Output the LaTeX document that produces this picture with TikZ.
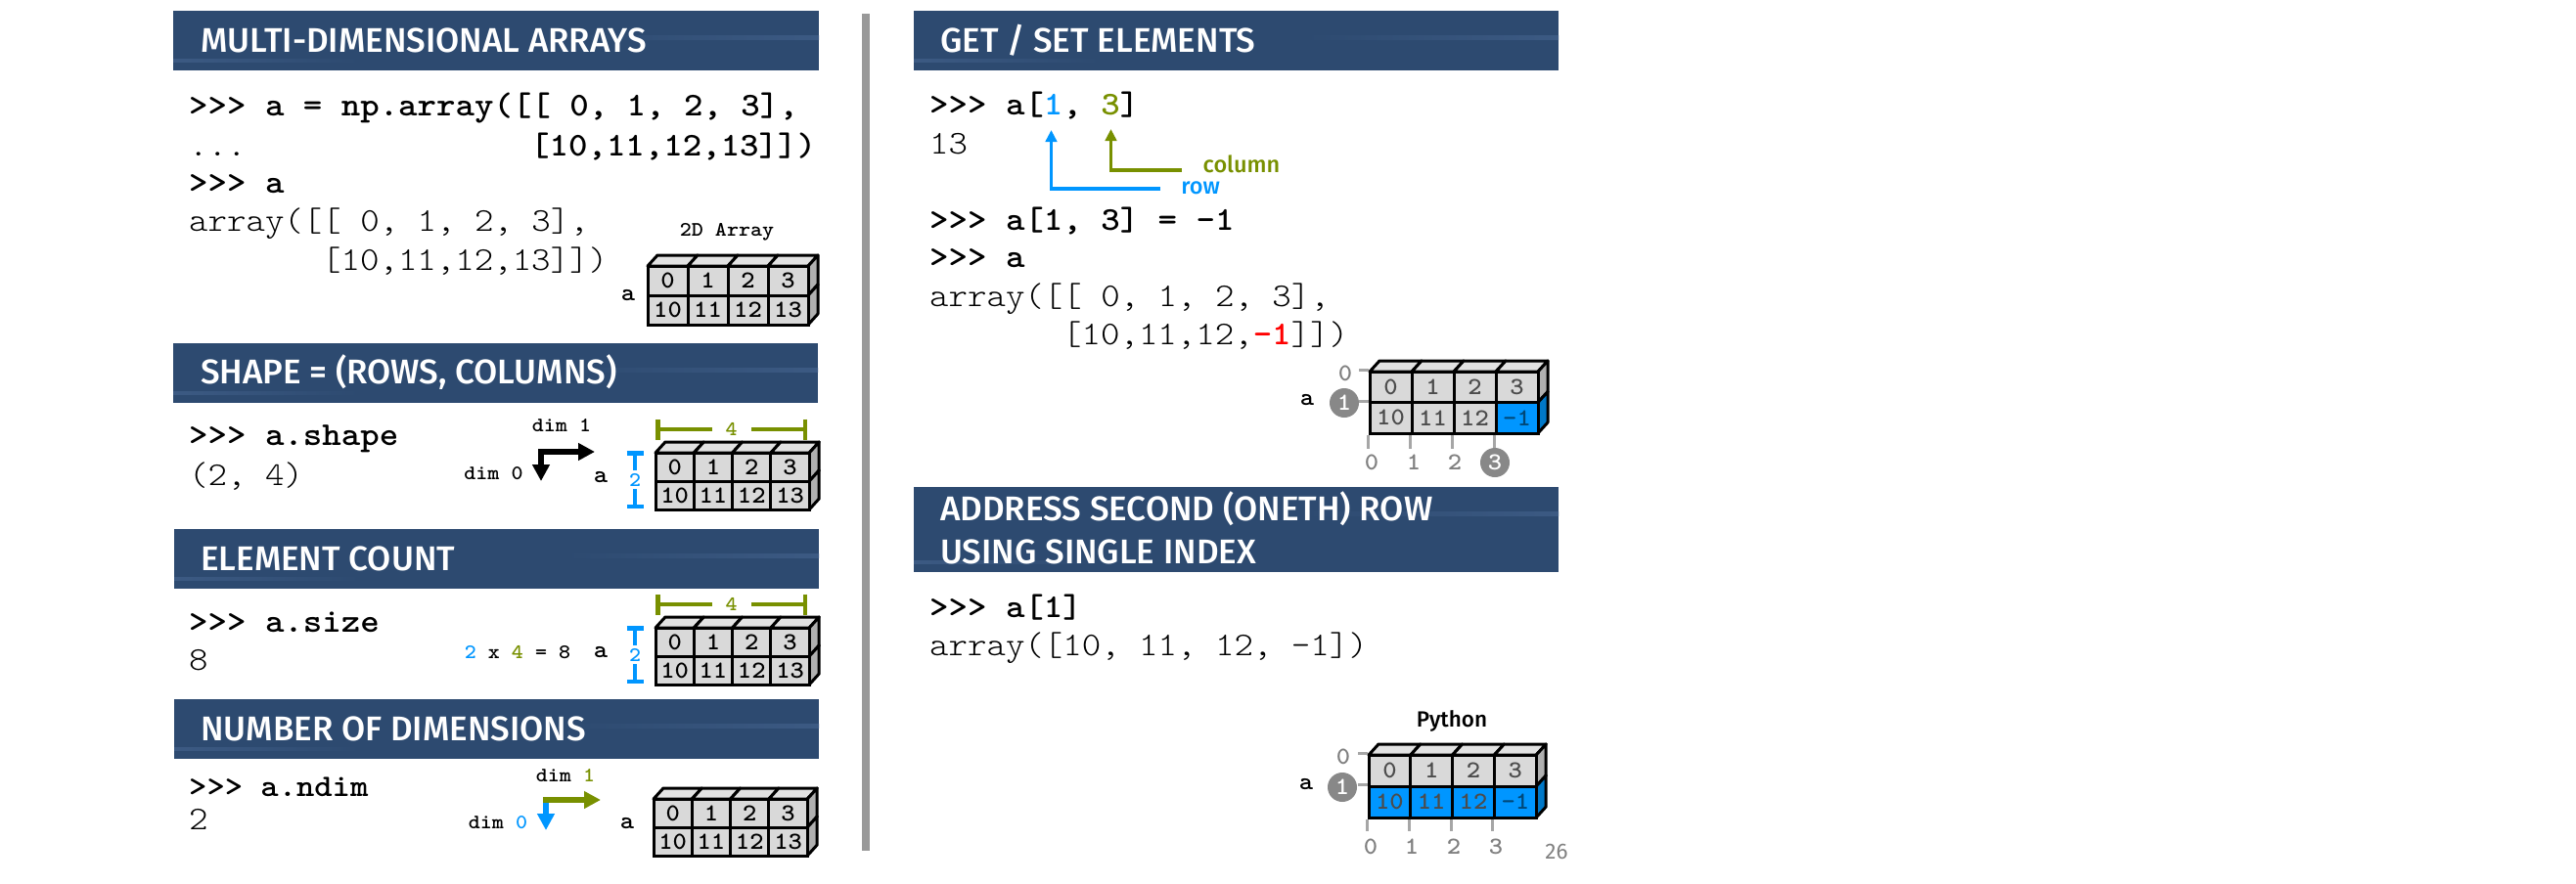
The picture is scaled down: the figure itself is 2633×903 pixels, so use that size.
\documentclass[tikz,border=0pt]{standalone}
\usepackage{fontspec}
\usetikzlibrary{arrows.meta}
\newfontfamily\hdfont{Fira Sans Medium}
\newfontfamily\pagefont{Fira Sans}
\newfontfamily\codethin[FakeStretch=1.09]{Latin Modern Mono Light}
\definecolor{hdrblue}{HTML}{2D4A70}
\definecolor{hdrlight}{HTML}{3C5A83}
\definecolor{numblue}{HTML}{0096FF}
\definecolor{numblued}{HTML}{0078C8}
\definecolor{numgreen}{HTML}{789000}
\definecolor{numred}{HTML}{FF0000}
\definecolor{cellgray}{HTML}{D9D9D9}
\definecolor{topgray}{HTML}{E2E2E2}
\definecolor{sidegray}{HTML}{B0B0B0}
\definecolor{idxgray}{HTML}{888888}
\tikzset{
codebold/.style={font=\codethin\bfseries\fontsize{34}{34}\selectfont, anchor=base west, inner sep=0pt},
codelight/.style={font=\codethin\fontsize{34}{34}\selectfont, text=black, anchor=base west, inner sep=0pt},
hdrtext/.style={font=\hdfont\fontsize{35}{35}\selectfont, text=white, anchor=base west, inner sep=0pt},
smallbold/.style={font=\codethin\bfseries\fontsize{21}{21}\selectfont, inner sep=0pt},
arrname/.style={font=\codethin\bfseries\fontsize{25}{25}\selectfont, inner sep=0pt},
cellbox/.style={draw=black, line width=3pt, inner sep=0pt, font=\codethin\bfseries\fontsize{25}{25}\selectfont},
blockline/.style={draw=black, line width=3pt, line join=round},
idxtext/.style={font=\codethin\bfseries\fontsize{25}{25}\selectfont, text=black!50, inner sep=0pt},
idxcircle/.style={circle, fill=idxgray, text=white, font=\codethin\bfseries\fontsize{25}{25}\selectfont, minimum size=30pt, inner sep=0pt},
tickline/.style={draw=black!35, line width=3pt},
sizebar/.style={line width=4.5pt, {Bar[width=#1,line width=4.5pt]}-{Bar[width=#1,line width=4.5pt]}},
sizenum/.style={font=\codethin\bfseries\fontsize{21}{21}\selectfont, fill=white, inner xsep=2pt, inner ysep=3pt},
dimarrow/.style={line width=6pt, -{Triangle[length=17pt,width=17pt]}},
thinarrow/.style={line width=3.5pt, -{Triangle[length=12pt,width=11.5pt]}},
tagtext/.style={font=\hdfont\fontsize{23.5}{23.5}\selectfont, inner sep=0pt},
}
% one array block: name, x, y, cell w, cell h, top row, bottom row, colour of lower side
\newcommand{\npblock}[8]{
\begin{scope}[shift={(#2,#3)}]
\foreach \c in {0,1,2,3}
  \filldraw[blockline, fill=topgray] (\c*#4,0) -- ++(10,-11) -- ++(#4,0) -- ++(-10,11) -- cycle;
\filldraw[blockline, fill=sidegray] (4*#4,0) -- ++(10,-11) -- ++(0,#5) -- ++(-10,11) -- cycle;
\filldraw[blockline, fill=#8] (4*#4,#5) -- ++(10,-11) -- ++(0,#5) -- ++(-10,11) -- cycle;
\foreach \c/\v/\f/\t in #6
  \node[cellbox, minimum width=#4pt, minimum height=#5pt, fill=\f, text=\t] (#1r0c\c) at (\c*#4+#4/2,#5/2) {\v};
\foreach \c/\v/\f/\t in #7
  \node[cellbox, minimum width=#4pt, minimum height=#5pt, fill=\f, text=\t] (#1r1c\c) at (\c*#4+#4/2,#5+#5/2) {\v};
\end{scope}
}
\newcommand{\toprow}{0/0/cellgray/black,1/1/cellgray/black,2/2/cellgray/black,3/3/cellgray/black}
\newcommand{\lowrow}{0/10/cellgray/black,1/11/cellgray/black,2/12/cellgray/black,3/13/cellgray/black}
\newcommand{\topdim}{0/0/cellgray/black!70,1/1/cellgray/black!70,2/2/cellgray/black!70,3/3/cellgray/black!70}
\newcommand{\lowsel}{0/10/cellgray/black!70,1/11/cellgray/black!70,2/12/cellgray/black!70,3/-1/numblue/numblued!60!black}
\newcommand{\lowoneth}{0/10/numblue/black!70,1/11/numblue/black!70,2/12/numblue/black!70,3/-1/numblue/numblued!60!black}
\begin{document}
\begin{tikzpicture}[x=1pt,y=-1pt]
\useasboundingbox (0,0) rectangle (2633,903);

%Header bars
\foreach \xa/\ya/\xb/\yb in {177/11/837/72, 177/351/836/412, 178/541/837/602, 178/715/837/776, 934/11/1593/72, 934/498/1593/585}{
  \fill[hdrblue] (\xa,\ya) rectangle (\xb,\yb);
  \shade[left color=hdrblue, right color=hdrlight] (\xa+400,\ya+25) rectangle (\xb,\ya+29);
  \shade[left color=hdrlight, right color=hdrblue] (\xa,\yb-12) rectangle (\xa+190,\yb-9);
}
\fill[black!40] (881,14) rectangle (889,870);

\node[hdrtext] (hdrArrays) at (205,53) {MULTI-DIMENSIONAL ARRAYS};
\node[hdrtext] (hdrShape) at (205,392) {SHAPE = (ROWS, COLUMNS)};
\node[hdrtext] (hdrCount) at (205,583) {ELEMENT COUNT};
\node[hdrtext] (hdrNdim) at (205,757) {NUMBER OF DIMENSIONS};
\node[hdrtext] (hdrGet) at (961,53) {GET / SET ELEMENTS};
\node[hdrtext] (hdrRowA) at (961,532) {ADDRESS SECOND (ONETH) ROW};
\node[hdrtext] (hdrRowB) at (961,576) {USING SINGLE INDEX};

%Code, left column
\node[codebold] (lineA) at (193,118) {>>> a = np.array([[ 0, 1, 2, 3],};
\node[codelight] (lineB) at (193,159) {...};
\node[codebold] (lineC) at (542,159) {[10,11,12,13]])};
\node[codebold] (lineD) at (193,197) {>>> a};
\node[codelight] (lineE) at (193,236) {array([[ 0, 1, 2, 3],};
\node[codelight] (lineF) at (329,276) {[10,11,12,13]])};
\node[codebold] (shapeA) at (193,455) {>>> a.shape};
\node[codelight] (shapeB) at (193,496) {(2, 4)};
\node[codebold] (sizeA) at (193,646) {>>> a.size};
\node[codelight] (sizeB) at (193,685) {8};
\node[codebold, font=\codethin\bfseries\fontsize{32}{32}\selectfont] (ndimA) at (193,814) {>>> a.ndim};
\node[codelight] (ndimB) at (193,848) {2};

%Code, right column
\node[codebold] (getA) at (950,117) {>>> a[{\color{numblue}1}, {\color{numgreen}3}]};
\node[codelight] (getB) at (950,157) {13};
\node[codebold] (getC) at (950,235) {>>> a[1, 3] = -1};
\node[codebold] (getD) at (950,273) {>>> a};
\node[codelight] (getE) at (950,313) {array([[ 0, 1, 2, 3],};
\node[codelight] (getF) at (1086,352) {[10,11,12,{\bfseries\color{numred}-1}]])};
\node[codebold] (rowA) at (950,631) {>>> a[1]};
\node[codelight] (rowB) at (950,670) {array([10, 11, 12, -1])};

%Blocks
\npblock{arr}{662}{272}{41}{30}{\toprow}{\lowrow}{sidegray}
\npblock{shp}{670}{463}{39.3}{29}{\toprow}{\lowrow}{sidegray}
\npblock{cnt}{670}{642}{39.3}{29}{\toprow}{\lowrow}{sidegray}
\npblock{dmn}{668}{817}{39.3}{29}{\toprow}{\lowrow}{sidegray}
\npblock{sel}{1400}{380}{43}{31.5}{\topdim}{\lowsel}{numblued}
\npblock{oneth}{1399}{772}{42.8}{32}{\topdim}{\lowoneth}{numblued}

%Block labels
\node[smallbold] (arrTitle) at (743,237) {2D Array};
\node[arrname] (arrName) at (642,302) {a};
\node[arrname] (shpName) at (614,488) {a};
\node[arrname] (cntName) at (614,667) {a};
\node[arrname] (dmnName) at (641,842) {a};
\node[arrname] (selName) at (1336,409) {a};
\node[arrname] (onethName) at (1335,802) {a};
\node[font=\hdfont\fontsize{22.5}{22.5}\selectfont, inner sep=0pt] (onethTitle) at (1484,737) {Python};
\node[font=\pagefont\fontsize{22.5}{22.5}\selectfont, text=black!50, inner sep=0pt] (pageNo) at (1591,871) {26};

%Dimension arrows
\coordinate (shpCorner) at (553,462);
\coordinate (shpRight) at (608,462);
\coordinate (shpDown) at (553,492);
\draw[dimarrow] ([xshift=-3pt]shpCorner) -- (shpRight);
\draw[dimarrow] (shpCorner) -- (shpDown);
\node[smallbold] (shpDimB) at (574,435) {dim 1};
\node[smallbold] (shpDimA) at (504.5,484) {dim 0};

\coordinate (dmnCorner) at (558,818);
\coordinate (dmnRight) at (614,818);
\coordinate (dmnDown) at (558,849);
\draw[dimarrow, numblue] (dmnCorner) -- (dmnDown);
\draw[dimarrow, numgreen] ([xshift=-3pt]dmnCorner) -- (dmnRight);
\node[smallbold] (dmnDimB) at (578,793) {dim {\color{numgreen}1}};
\node[smallbold] (dmnDimA) at (509,841) {dim {\color{numblue}0}};

%Size bars
\draw[sizebar=17pt, numblue] (649,461) -- (649,520) node [midway, sizenum] (shpRows) {2};
\draw[sizebar=21pt, numgreen] (670,439) -- (825,439) node [midway, sizenum, inner xsep=14pt] (shpCols) {4};
\draw[sizebar=17pt, numblue] (649,640) -- (649,699) node [midway, sizenum] (cntRows) {2};
\draw[sizebar=21pt, numgreen] (670,618) -- (825,618) node [midway, sizenum, inner xsep=14pt] (cntCols) {4};
\node[smallbold] (cntCalc) at (529,667) {{\color{numblue}2} x {\color{numgreen}4} = 8};

%Index arrows
\coordinate (rowTail) at (1186,193);
\coordinate (rowBend) at (1074.5,193);
\coordinate (rowTip) at (1074.5,133);
\coordinate (colTail) at (1208,174);
\coordinate (colBend) at (1135.5,174);
\coordinate (colTip) at (1135.5,132);
\draw[thinarrow, numblue] (rowTail) -- (rowBend) -- (rowTip);
\draw[thinarrow, numgreen] (colTail) -- (colBend) -- (colTip);
\node[tagtext, text=numblue] (rowTag) at (1227,192) {row};
\node[tagtext, text=numgreen] (colTag) at (1269,168) {column};

%Indices around selected block
\foreach \c/\px in {0/1402,1/1445,2/1487}
  \node[idxtext] (selCol\c) at (\px,473) {\c};
\node[idxtext] (selRow0) at (1375,382) {0};
\foreach \c in {0,1,2,3}
  \draw[tickline] (selr1c\c.south west) -- ++(0,14);
\draw[tickline] (selr0c0.north west) -- ++(-10,0);
\draw[tickline] (selr1c0.north west) -- ++(-10,0);
\node[idxcircle] (selRow1) at (1374,412) {1};
\node[idxcircle] (selCol3) at (1528,473) {3};

%Indices around the oneth row
\foreach \c/\px in {0/1401,1/1443,2/1486,3/1529}
  \node[idxtext] (onethCol\c) at (\px,866) {\c};
\node[idxtext] (onethRow0) at (1373,774) {0};
\foreach \c in {0,1,2,3}
  \draw[tickline] (onethr1c\c.south west) -- ++(0,12);
\draw[tickline] (onethr0c0.north west) -- ++(-10,0);
\draw[tickline] (onethr1c0.north west) -- ++(-10,0);
\node[idxcircle] (onethRow1) at (1372,805) {1};
\end{tikzpicture}
\end{document}
